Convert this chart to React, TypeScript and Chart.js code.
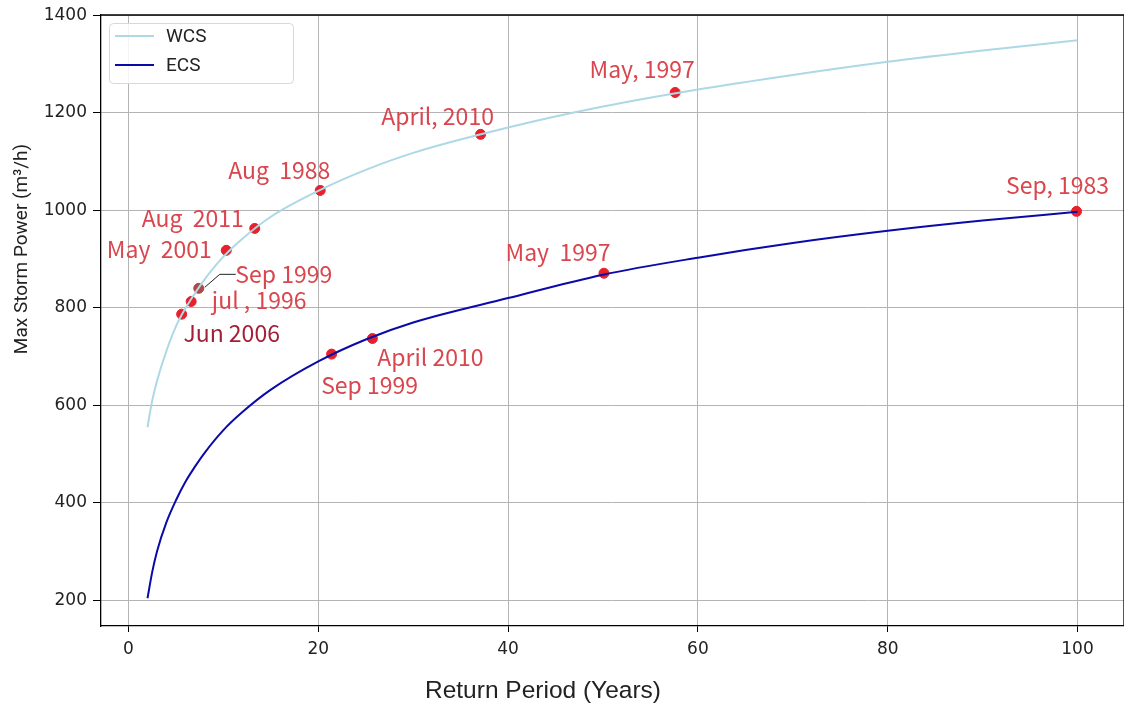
import React, { useEffect, useRef } from "react";
import { Chart, registerables } from "chart.js";

Chart.register(...registerables);

// ---- Data ----
const curveX = [2, 2.5, 3, 4, 5, 6, 7, 8, 10, 12, 15, 20, 25, 30, 40, 50, 60, 70, 80, 90, 100];
const wcsCurve = [555, 610, 650, 712, 762, 799, 830, 858, 905, 942, 987, 1040, 1083, 1118, 1170, 1213, 1248, 1278, 1305, 1328, 1349];
const ecsCurve = [204, 258, 300, 360, 405, 443, 474, 502, 549, 586, 632, 690, 735, 770, 820, 868, 903, 933, 958, 979, 997];

const wcsEventX = [5.6, 6.6, 7.4, 10.3, 13.3, 20.2, 37.1, 57.6];
const wcsEventY = [787, 813, 840, 918, 963, 1041, 1156, 1242];
const wcsEventLabels = ["Jun 2006", "jul , 1996", "Sep 1999", "May  2001", "Aug  2011", "Aug  1988", "April, 2010", "May, 1997"];

const ecsEventX = [21.4, 25.7, 50.1, 99.9];
const ecsEventY = [705, 737, 871, 998];
const ecsEventLabels = ["Sep 1999", "April 2010", "May  1997", "Sep, 1983"];

const xTicks = [0, 20, 40, 60, 80, 100];
const yTicks = [200, 400, 600, 800, 1000, 1200, 1400];

const seriesNames = ["WCS", "ECS"];
const xTitle = "Return Period (Years)";
const yTitle = "Max Storm Power (m\u00B3/h)";

// ---- Styles (positions are pixel offsets of labels from their points) ----
const wcsLabelOffsets = [[50, 19], [68, -1], [85, -14], [-67, -1], [-62, -10], [-41, -20], [-43, -18], [-33, -23]];
const ecsLabelOffsets = [[38, 31], [58, 19], [-46, -21], [-19, -26]];
const LABEL_RED = "#d9464e";
const LABEL_DARK = "#a31f38";
const WCS_COLOR = "#add8e6";
const ECS_COLOR = "#0a0aa8";

const annotationPlugin = {
  id: "annotations",
  afterDatasetsDraw(chart: any) {
    const { ctx, scales } = chart;
    const xs = scales.x, ys = scales.y;
    ctx.save();
    ctx.font = '23px "Noto Sans CJK JP"';
    ctx.textAlign = "center";
    ctx.textBaseline = "middle";
    // leader line for WCS Sep 1999
    const lx = xs.getPixelForValue(wcsEventX[2]);
    const ly = ys.getPixelForValue(wcsEventY[2]);
    ctx.strokeStyle = "#222";
    ctx.lineWidth = 1;
    ctx.beginPath();
    ctx.moveTo(lx + 6, ly - 1);
    ctx.lineTo(lx + 21, ly - 14);
    ctx.lineTo(lx + 37, ly - 14);
    ctx.stroke();
    wcsEventLabels.forEach((t, i) => {
      const px = xs.getPixelForValue(wcsEventX[i]);
      const py = ys.getPixelForValue(wcsEventY[i]);
      ctx.fillStyle = i === 0 ? LABEL_DARK : LABEL_RED;
      ctx.fillText(t, px + wcsLabelOffsets[i][0], py + wcsLabelOffsets[i][1]);
    });
    ecsEventLabels.forEach((t, i) => {
      const px = xs.getPixelForValue(ecsEventX[i]);
      const py = ys.getPixelForValue(ecsEventY[i]);
      ctx.fillStyle = LABEL_RED;
      ctx.fillText(t, px + ecsLabelOffsets[i][0], py + ecsLabelOffsets[i][1]);
    });
    ctx.restore();
  },
  afterDraw(chart: any) {
    const { ctx, chartArea } = chart;
    ctx.save();
    // frame top/right
    ctx.strokeStyle = "#000";
    ctx.lineWidth = 1.3;
    ctx.beginPath();
    ctx.moveTo(chartArea.left, chartArea.top);
    ctx.lineTo(chartArea.right, chartArea.top);
    ctx.lineTo(chartArea.right, chartArea.bottom);
    ctx.stroke();
    // legend
    const bx = 109, by = 23, bw = 184, bh = 60;
    ctx.fillStyle = "rgba(255,255,255,0.85)";
    ctx.strokeStyle = "#d8d8d8";
    ctx.lineWidth = 1;
    ctx.beginPath();
    (ctx as any).roundRect(bx + 0.5, by + 0.5, bw, bh, 4);
    ctx.fill();
    ctx.stroke();
    const colors = [WCS_COLOR, ECS_COLOR];
    const rowsY = [36, 65];
    ctx.font = '19px Roboto';
    ctx.textAlign = "left";
    ctx.textBaseline = "middle";
    seriesNames.forEach((n, i) => {
      ctx.strokeStyle = colors[i];
      ctx.lineWidth = 2;
      ctx.beginPath();
      ctx.moveTo(115, rowsY[i]);
      ctx.lineTo(154, rowsY[i]);
      ctx.stroke();
      ctx.fillStyle = "#222";
      ctx.fillText(n, 166, rowsY[i] + 1);
    });
    // axis titles
    ctx.fillStyle = "#222";
    ctx.textAlign = "center";
    ctx.font = '24.5px "Liberation Sans"';
    ctx.fillText(xTitle, 543, 691);
    ctx.translate(22, 249);
    ctx.rotate(-Math.PI / 2);
    ctx.font = '19px Roboto';
    ctx.fillText(yTitle, 0, 0);
    ctx.restore();
  },
};

export default function App() {
  const ref = useRef<HTMLCanvasElement>(null);
  useEffect(() => {
    document.body.style.margin = "0";
    const canvas = ref.current!;
    const chart = new Chart(canvas, {
      type: "line",
      data: {
        datasets: [
          {
            label: seriesNames[0],
            data: curveX.map((x, i) => ({ x, y: wcsCurve[i] })),
            borderColor: WCS_COLOR,
            borderWidth: 2,
            pointRadius: 0,
            cubicInterpolationMode: "monotone",
            fill: false,
          },
          {
            label: seriesNames[1],
            data: curveX.map((x, i) => ({ x, y: ecsCurve[i] })),
            borderColor: ECS_COLOR,
            borderWidth: 2,
            pointRadius: 0,
            cubicInterpolationMode: "monotone",
            fill: false,
          },
          {
            label: "WCS events",
            data: wcsEventX.map((x, i) => ({ x, y: wcsEventY[i] })),
            showLine: false,
            pointRadius: 5,
            pointBackgroundColor: wcsEventX.map((_, i) => (i === 2 ? "#b04848" : "#e8202a")),
            pointBorderColor: wcsEventX.map((_, i) => (i === 2 ? "#b04848" : "#e8202a")),
            pointBorderWidth: 1,
          },
          {
            label: "ECS events",
            data: ecsEventX.map((x, i) => ({ x, y: ecsEventY[i] })),
            showLine: false,
            pointRadius: 5,
            pointBackgroundColor: "#e8202a",
            pointBorderColor: "#e8202a",
            pointBorderWidth: 1,
          },
        ],
      },
      options: {
        animation: false,
        responsive: false,
        layout: { autoPadding: false, padding: { top: 15, right: 0, left: 0, bottom: 0 } },
        plugins: { legend: { display: false }, tooltip: { enabled: false } },
        scales: {
          x: {
            type: "linear",
            min: -2.9,
            max: 104.9,
            afterBuildTicks: (s: any) => { s.ticks = xTicks.map((v) => ({ value: v })); },
            afterFit: (s: any) => { s.height = 78; s.paddingLeft = 0; s.paddingRight = 0; },
            grid: { color: "#b4b4b4", lineWidth: 1, tickColor: "#000", tickLength: 6 },
            border: { color: "#000", width: 1.3 },
            ticks: { font: { family: "DejaVu Sans", size: 17 }, color: "#222", padding: 7, maxRotation: 0, callback: (v: any) => String(v) },
          },
          y: {
            type: "linear",
            min: 147,
            max: 1401,
            afterBuildTicks: (s: any) => { s.ticks = yTicks.map((v) => ({ value: v })); },
            afterFit: (s: any) => { s.width = 101; s.paddingTop = 0; s.paddingBottom = 0; },
            grid: { color: "#b4b4b4", lineWidth: 1, tickColor: "#000", tickLength: 8 },
            border: { color: "#000", width: 1.3 },
            ticks: { font: { family: "DejaVu Sans", size: 17 }, color: "#222", padding: 6, callback: (v: any) => String(v) },
          },
        },
      },
      plugins: [annotationPlugin],
    });
    return () => chart.destroy();
  }, []);
  return (
    <div style={{ position: "absolute", left: 0, top: 0, width: 1124, height: 704, background: "#fff" }}>
      <canvas ref={ref} width={1124} height={704} style={{ display: "block" }} />
    </div>
  );
}
